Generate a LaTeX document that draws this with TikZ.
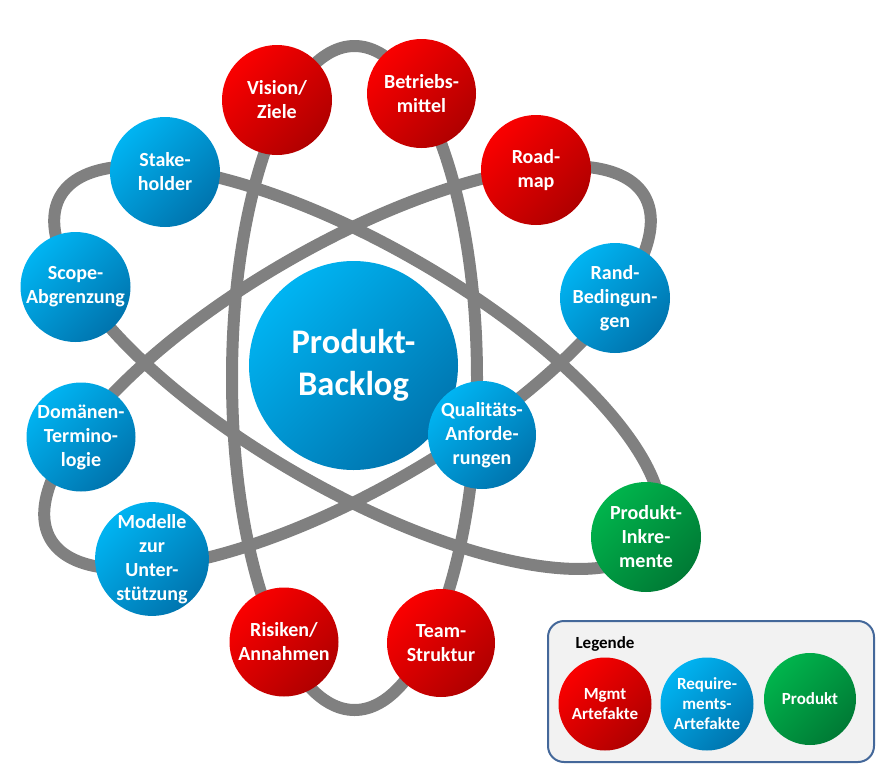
\documentclass[tikz,border=0pt]{standalone}
\usepackage{fontspec}
\setmainfont{Carlito}
\definecolor{orbitgray}{HTML}{808080}
\definecolor{redA}{HTML}{FA0000}
\definecolor{redB}{HTML}{B00000}
\definecolor{blueA}{HTML}{00B4F2}
\definecolor{blueB}{HTML}{0074AE}
\definecolor{greenA}{HTML}{00B44C}
\definecolor{greenB}{HTML}{007A35}
\definecolor{legendblue}{HTML}{44689A}
\definecolor{legendgray}{HTML}{F2F2F2}
\begin{document}
\begin{tikzpicture}[x=1pt,y=-1pt,
  orbit/.style={draw=orbitgray, line width=12pt},
  bub/.style={circle, inner sep=0pt, minimum size=#1, text=white, align=center,
    font=\bfseries\fontsize{20}{24}\selectfont},
  mgmt/.style={top color=redA, bottom color=redB, shading angle=45},
  req/.style={top color=blueA, bottom color=blueB, shading angle=45},
  prod/.style={top color=greenA, bottom color=greenB, shading angle=45},
  legfont/.style={font=\bfseries\fontsize{17}{20}\selectfont}
]
\useasboundingbox (0,0) rectangle (884,764);

% orbits
\coordinate (o1) at (354.5,378);
\coordinate (o2) at (357.5,367.5);
\coordinate (o3) at (347.5,367.5);
\draw[orbit] (o1) ellipse [x radius=122.5pt, y radius=332pt];
\draw[orbit, rotate around={-30:(o2)}] (o2) ellipse [x radius=343pt, y radius=122pt];
\draw[orbit, rotate around={30:(o3)}] (o3) ellipse [x radius=343pt, y radius=122pt];

% bubbles
\node[bub=110pt, mgmt] (vision) at (277,100) {Vision/\\Ziele};
\node[bub=109pt, mgmt] (betrieb) at (421.5,93.5) {Betriebs-\\mittel};
\node[bub=110pt, mgmt] (roadmap) at (536,170) {Road-\\map};
\node[bub=110pt, req] (rand) at (615,298) {Rand-\\Bedingun-\\gen};
\node[bub=110pt, req] (stake) at (165,172) {Stake-\\holder};
\node[bub=110pt, req] (scope) at (75.5,287) {Scope-\\Abgrenzung};
\node[bub=209pt, req, font=\bfseries\fontsize{34.5}{42}\selectfont] (backlog) at (353.5,365.5) {Produkt-\\Backlog};
\node[bub=109pt, req] (domaene) at (81,437) {Domänen-\\Termino-\\logie};
\node[bub=108pt, req] (modelle) at (152,559) {Modelle\\zur\\Unter-\\stützung};
\node[bub=109pt, mgmt] (risiken) at (284,642) {Risiken/\\Annahmen};
\node[bub=108pt, mgmt] (team) at (441,643) {Team-\\Struktur};
\node[bub=108pt, req] (quali) at (482,435) {Qualitäts-\\Anforde-\\rungen};
\node[bub=110pt, prod] (inkr) at (646,537) {Produkt-\\Inkre-\\mente};

% legend
\node[draw=legendblue, fill=legendgray, line width=2pt, rounded corners=16pt,
  minimum width=326pt, minimum height=141pt, inner sep=0pt] (legend) at (711,691.5) {};
\node[legfont] (legtitle) at (605,644) {Legende};
\node[bub=93pt, mgmt, legfont] (legm) at (605,704) {Mgmt\\Artefakte};
\node[bub=93pt, req, legfont] (legr) at (707,704) {Require-\\ments-\\Artefakte};
\node[bub=92pt, prod, legfont] (legp) at (810,699) {Produkt};
\end{tikzpicture}
\end{document}
